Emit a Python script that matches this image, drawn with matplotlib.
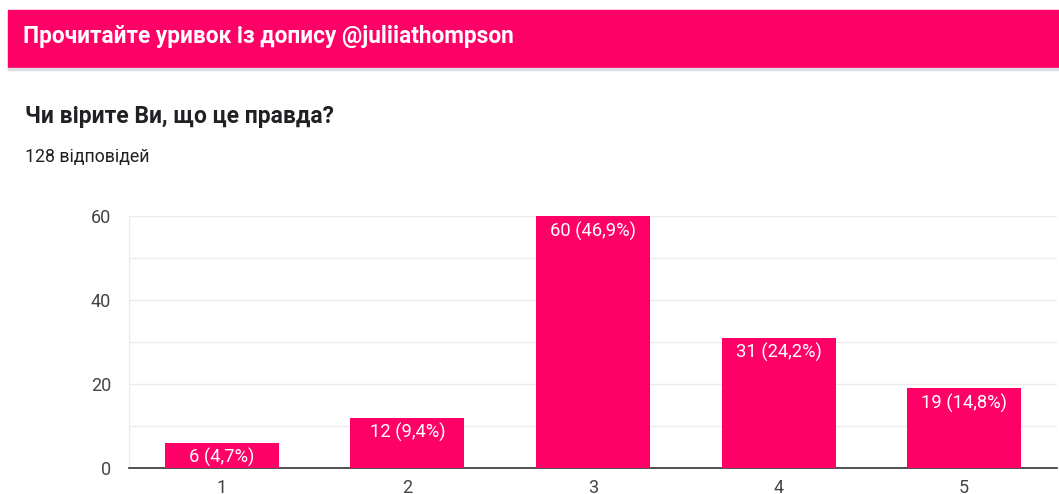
import matplotlib
matplotlib.use("Agg")
import matplotlib.pyplot as plt
from matplotlib.patches import Rectangle

plt.rcParams['font.family'] = ['Roboto', 'DejaVu Sans']

header = "Прочитайте уривок із допису @juliiathompson"
question = "Чи вірите Ви, що це правда?"
responses = "128 відповідей"
categories = ["1", "2", "3", "4", "5"]
counts = [6, 12, 60, 31, 19]
labels = ["6 (4,7%)", "12 (9,4%)", "60 (46,9%)", "31 (24,2%)", "19 (14,8%)"]
yticks = [0, 20, 40, 60]

PINK = "#ff0066"
W, H = 1059, 494
fig = plt.figure(figsize=(W / 100, H / 100), dpi=100)
fig.patch.set_facecolor("white")

# header bar
fig.patches.append(Rectangle((8 / W, 1 - 68 / H), (W - 8) / W, 58 / H,
                             transform=fig.transFigure, color=PINK, zorder=0))
fig.patches.append(Rectangle((8 / W, 1 - 70 / H), (W - 8) / W, 2 / H,
                             transform=fig.transFigure, color="#dddde3", zorder=0))
fig.text(23 / W, 1 - 37 / H, header, color="white", fontsize=16.3,
         fontweight="bold", va="center", ha="left")
fig.text(25 / W, 1 - 117 / H, question, color="#202124", fontsize=16.5,
         fontweight="bold", va="center", ha="left")
fig.text(25 / W, 1 - 157 / H, responses, color="#202124", fontsize=12.8,
         va="center", ha="left")

ax = fig.add_axes([129 / W, 1 - 468 / H, (1057 - 129) / W, (468 - 216) / H])
x = list(range(1, len(categories) + 1))
ax.bar(x, counts, width=0.615, color=PINK, zorder=3)
for xi, c, lab in zip(x, counts, labels):
    ax.text(xi, c - 1.3, lab, color="white", fontsize=13.2, ha="center",
            va="top", zorder=4)

ax.set_xlim(0.5, 5.5)
ax.set_ylim(0, 60)
ax.set_yticks(yticks)
ax.set_yticks([10, 30, 50], minor=True)
ax.set_xticks(x)
ax.set_xticklabels(categories)
ax.grid(axis="y", which="both", color="#ebebeb", linewidth=1, zorder=0)
ax.tick_params(axis="both", which="both", length=0, labelsize=13,
               labelcolor="#444444")
ax.tick_params(axis="y", pad=13)
ax.tick_params(axis="x", pad=8)
for s in ["top", "right"]:
    ax.spines[s].set_visible(False)
ax.spines["left"].set_color("#ebebeb")
ax.spines["bottom"].set_color("#333333")
ax.spines["bottom"].set_linewidth(1.2)
ax.set_axisbelow(True)

fig.savefig("out.png", dpi=100, facecolor="white")
